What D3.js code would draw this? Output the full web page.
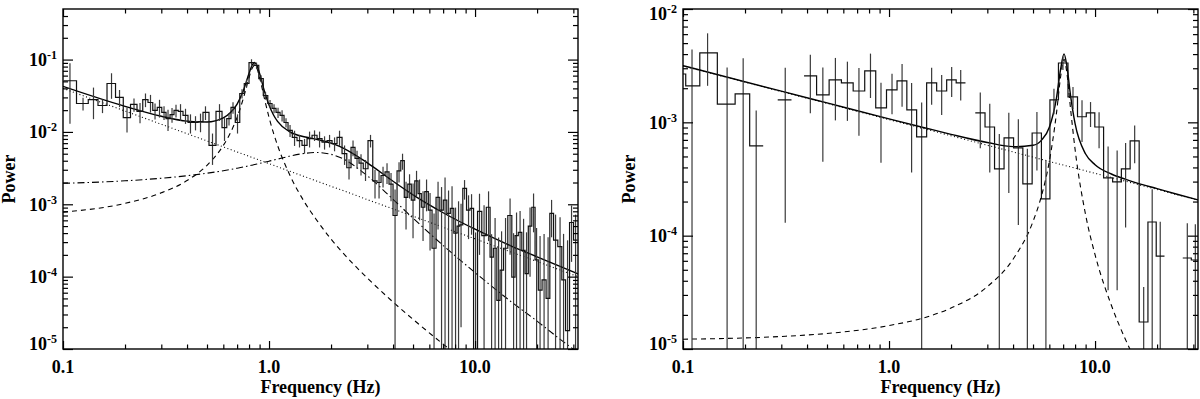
<!DOCTYPE html>
<html>
<head>
<meta charset="utf-8">
<script src="https://cdn.jsdelivr.net/npm/d3@7"></script>
<style>
body { margin: 0; background: #fff; }
text { font-family: "Liberation Serif", "Times New Roman", serif; font-weight: bold; fill: #000; }
</style>
</head>
<body>
<svg width="1200" height="399"></svg>
<script>
// ---------- left panel: binned power spectrum (bin centre freq, power, 1-sigma error) ----------
var leftFreq = [0.1081, 0.1251, 0.1406, 0.1555, 0.1720, 0.1881, 0.2045, 0.2211, 0.2365, 0.2514,
  0.2659, 0.2797, 0.2941, 0.3093, 0.3234, 0.3382, 0.3536, 0.3719, 0.3932, 0.4157,
  0.4397, 0.4650, 0.4916, 0.5317, 0.5750, 0.6081, 0.6394, 0.6686, 0.7032, 0.7394,
  0.7776, 0.8222, 0.8695, 0.9146, 0.9616, 1.0113, 1.0576, 1.106, 1.157, 1.209,
  1.265, 1.330, 1.406, 1.487, 1.573, 1.663, 1.759, 1.860, 1.967, 2.080,
  2.199, 2.326, 2.445, 2.557, 2.674, 2.796, 2.940, 3.109, 3.269, 3.420,
  3.576, 3.739, 3.910, 4.090, 4.276, 4.447, 4.624, 4.809, 5.000, 5.200,
  5.378, 5.592, 5.816, 6.048, 6.324, 6.613, 6.877, 7.151, 7.437, 7.733,
  8.042, 8.316, 8.551, 8.892, 9.299, 9.616, 10.06, 10.51, 11.06, 11.63,
  12.03, 12.51, 13.01, 13.45, 14.06, 14.79, 15.38, 15.90, 16.54, 17.20,
  17.78, 18.49, 19.23, 19.89, 20.68, 21.63, 22.62, 23.52, 24.59, 25.86,
  26.89, 28.12, 29.40, 30.75];
var leftPower = [0.051, 0.0247, 0.028, 0.0232, 0.0467, 0.030, 0.0158, 0.024, 0.0192, 0.028,
  0.0255, 0.0198, 0.0218, 0.0186, 0.0153, 0.0174, 0.0198, 0.0192, 0.0169, 0.0135,
  0.0135, 0.0139, 0.0186, 0.0065, 0.0192, 0.0115, 0.0153, 0.0218, 0.0135, 0.034,
  0.0467, 0.091, 0.083, 0.0547, 0.0319, 0.0247, 0.0211, 0.0186, 0.0169, 0.0135,
  0.0105, 0.0084, 0.0076, 0.0065, 0.0081, 0.009, 0.0081, 0.0072, 0.0076, 0.0069,
  0.0084, 0.0050, 0.0032, 0.0061, 0.0043, 0.0037, 0.0031, 0.0076, 0.0021, 0.0020,
  0.0025, 0.0028, 0.0019, 0.0007, 0.0029, 0.004, 0.00125, 0.0019, 0.00114, 0.0021,
  0.0014, 0.00091, 0.0015, 0.00083, 0.000247, 0.00125, 0.00083, 0.00114, 0.00075, 0.00088,
  0.0004, 0.0005, 0.00052, 0.00166, 0.00083, 0.00088, 0.000008, 0.0008, 0.00037, 0.00091,
  0.000186, 0.000247, 0.000047, 0.000123, 0.000247, 0.0007, 0.0000985, 0.00037, 0.00041, 0.00023,
  0.00011, 0.0005, 0.00091, 0.00017, 0.000065, 0.00009, 0.00005, 0.00075, 0.00032, 0.00026,
  0.00009, 0.000018, 0.00056, 0.00032];
var leftErr = [0.038, 0.005, 0.013, 0.005, 0.018, 0.008, 0.006, 0.005, 0.006, 0.006,
  0.007, 0.005, 0.006, 0.004, 0.005, 0.004, 0.004, 0.005, 0.004, 0.004,
  0.003, 0.004, 0.004, 0.003, 0.005, 0.004, 0.003, 0.004, 0.004, 0.005,
  0.006, 0.010, 0.008, 0.006, 0.004, 0.003, 0.003, 0.003, 0.003, 0.002,
  0.002, 0.002, 0.0015, 0.0015, 0.002, 0.0015, 0.002, 0.0015, 0.0015, 0.0015,
  0.002, 0.0015, 0.001, 0.0015, 0.0012, 0.0012, 0.001, 0.0015, 0.0009, 0.0008,
  0.0008, 0.0009, 0.0008, 0.0009, 0.0009, 0.001, 0.0008, 0.0007, 0.0008, 0.0008,
  0.0008, 0.0006, 0.0007, 0.0006, 0.0005, 0.0008, 0.0009, 0.0012, 0.0008, 0.0009,
  0.0005, 0.0006, 0.0005, 0.0005, 0.0005, 0.0005, 0.0004, 0.0006, 0.0006, 0.0006,
  0.0002, 0.0004, 0.0003, 0.0003, 0.0004, 0.0005, 0.0003, 0.0004, 0.0004, 0.0004,
  0.0003, 0.0004, 0.0005, 0.0003, 0.0003, 0.0003, 0.0003, 0.0004, 0.0004, 0.0004,
  0.0003, 0.0003, 0.0004, 0.0004];

// left panel model components
var leftModelFreq = [0.1, 0.2, 0.3, 0.4, 0.5, 0.6, 0.65, 0.7, 0.75, 0.8, 0.825, 0.85, 0.875, 0.9, 0.95,
  1.0, 1.05, 1.1, 1.25, 1.5, 1.7, 2.0, 2.2, 3, 4, 5, 7, 10, 15, 20, 25, 31.6];
var leftPowerLaw = [0.04, 0.01946, 0.01276, 0.00946, 0.0075, 0.00621, 0.00571, 0.00528, 0.00492, 0.0046,
  0.00445, 0.00432, 0.00419, 0.00407, 0.00385, 0.00365, 0.00347, 0.0033, 0.00289, 0.00239,
  0.0021, 0.00177, 0.00161, 0.00116, 0.000863, 0.000684, 0.000482, 0.000333, 0.000218, 0.000162,
  0.000128, 0.0001];
var leftQpo = [0.00078, 0.00103, 0.00144, 0.00213, 0.00346, 0.00652, 0.00976, 0.0159, 0.0289, 0.0565,
  0.0743, 0.083, 0.0743, 0.0565, 0.0289, 0.0159, 0.00976, 0.00652, 0.00268, 0.00103,
  0.00061, 0.00033, 0.00024, 0.0000956, 0.0000446, 0.0000257, 0.0000117, 0.0000053, 0.0000022, 0.0000012,
  0.0000008, 0.0000005];
var leftBroad = [0.00195, 0.00211, 0.00229, 0.00248, 0.00269, 0.00291, 0.00303, 0.00315, 0.00328, 0.0034,
  0.00347, 0.00354, 0.0036, 0.00367, 0.00381, 0.00394, 0.00408, 0.00421, 0.0046, 0.00507,
  0.0052, 0.00491, 0.00447, 0.00248, 0.00117, 0.000643, 0.00027, 0.000114, 0.0000448, 0.0000243,
  0.0000147, 0.0000089];
var leftTotal = [0.0427, 0.0226, 0.0165, 0.0141, 0.0137, 0.0156, 0.0185, 0.0243, 0.0371, 0.0645,
  0.0822, 0.0909, 0.0821, 0.0642, 0.0366, 0.0235, 0.0173, 0.0140, 0.0102, 0.0085,
  0.0079, 0.0070, 0.0063, 0.00374, 0.00208, 0.00135, 0.000764, 0.000452, 0.000265, 0.000188,
  0.000144, 0.000109];

// ---------- right panel ----------
// null = empty bin (not drawn)
var rightFreq = [0.0961, 0.1106, 0.1316, 0.1637, 0.1959, 0.2266, 0.265, 0.3135, 0.3606, 0.415,
  0.4773, 0.5492, 0.628, 0.7145, 0.8128, 0.9141, 1.034, 1.157, 1.287, 1.44,
  1.61, 1.801, 2.014, 2.228, 2.479, 2.773, 3.083, 3.430, 3.814, 4.243,
  4.693, 5.222, 5.774, 6.317, 6.986, 7.815, 8.644, 9.508, 10.46, 11.57,
  12.80, 14.07, 15.57, 17.22, 18.94, 20.72, 22.79, 25.34, 28.04, 30.67];
var rightPower = [0.00267, 0.0021, 0.0041, 0.00145, 0.00178, 0.00062, null, 0.00158, null, 0.00257,
  0.00175, 0.00237, 0.00223, 0.00189, 0.00284, 0.00134, 0.00193, 0.00232, 0.00129, 0.000743,
  0.00223, 0.00189, 0.00237, 0.00223, null, 0.00121, 0.00091, 0.000388, 0.000728, 0.000594,
  0.000286, 0.000805, 0.000211, 0.00158, 0.00334, 0.00168, 0.00112, 0.00121, 0.00091, 0.000323,
  0.000298, 0.000388, 0.000686, 0.0000173, 0.000132, 0.000066, null, null, 0.0000635, 0.000061];
var rightErr = [0.0015, 0.0023, 0.0020, 0.0016, 0.0019, 0.00065, null, 0.00145, null, 0.00137,
  0.0013, 0.00133, 0.0012, 0.00113, 0.0012, 0.0009, 0.00075, 0.00095, 0.00093, 0.00075,
  0.0008, 0.00073, 0.0007, 0.00067, null, 0.00062, 0.00055, 0.0004, 0.00049, 0.00047,
  0.0003, 0.00043, 0.00025, 0.0004, 0.00045, 0.00037, 0.00045, 0.0003, 0.00032, 0.00029,
  0.000265, 0.00027, 0.00025, 0.000018, 0.000125, 0.000067, null, null, 0.000065, 0.000065];

var rightModelFreq = [0.1, 0.3, 0.5, 1, 1.5, 2, 3, 4, 5, 5.5, 6, 6.5, 6.8, 7.07, 7.3, 7.6, 8, 9,
  10, 12, 14, 16, 20, 25, 31.6];
var rightPowerLaw = [0.00315, 0.00187, 0.001469, 0.001057, 0.000873, 0.000761, 0.000628, 0.000548, 0.000493,
  0.000471, 0.000452, 0.000435, 0.000426, 0.000418, 0.000412, 0.000404, 0.000395, 0.000373,
  0.000355, 0.000326, 0.000303, 0.000284, 0.000256, 0.00023, 0.000206];
var rightQpo = [0.0000122, 0.0000129, 0.0000137, 0.0000161, 0.000019, 0.000023, 0.0000355, 0.000062, 0.0001335,
  0.000226, 0.000453, 0.001212, 0.002497, 0.0036, 0.002726, 0.001332, 0.000577, 0.0001527,
  0.0000679, 0.0000243, 0.0000123, 0.0000074, 0.0000036, 0.0000019, 0.000001];
var rightTotal = [0.003162, 0.001883, 0.001483, 0.001073, 0.000892, 0.000784, 0.000664, 0.00061, 0.000627,
  0.000697, 0.000905, 0.001647, 0.002923, 0.004018, 0.003138, 0.001736, 0.000972, 0.000526,
  0.000423, 0.00035, 0.000315, 0.000291, 0.00026, 0.000232, 0.000207];

var xTicks = [0.1, 1, 10];
var xTickLabels = ["0.1", "1.0", "10.0"];
var xMinor = [0.2, 0.3, 0.4, 0.5, 0.6, 0.7, 0.8, 0.9, 2, 3, 4, 5, 6, 7, 8, 9, 20, 30];

var svg = d3.select("svg");

function minorLog(lo, hi) {
  var out = [];
  for (var e = -6; e <= 0; e++) {
    for (var m = 2; m <= 9; m++) {
      var v = m * Math.pow(10, e);
      if (v > lo * 1.0001 && v < hi * 0.9999) out.push(v);
    }
  }
  return out;
}

function drawPanel(opt) {
  var width = opt.width, height = opt.height;
  var g = svg.append("g").attr("transform", "translate(" + opt.left + "," + opt.top + ")");

  var x = d3.scaleLog().domain([0.1, 31.6]).range([0, width]);
  var y = d3.scaleLog().domain(opt.yDomain).range([height, 0]);
  var yMin = opt.yDomain[0];

  g.append("defs").append("clipPath").attr("id", opt.id)
    .append("rect").attr("width", width).attr("height", height);
  var plot = g.append("g").attr("clip-path", "url(#" + opt.id + ")");

  // model curves
  var line = function(vals) {
    return d3.line()
      .curve(d3.curveMonotoneX)
      .x(function(d, i) { return x(opt.modelFreq[i]); })
      .y(function(d) { return y(d); })(vals);
  };
  opt.models.forEach(function(m) {
    plot.append("path")
      .attr("d", line(m.values))
      .attr("fill", "none")
      .attr("stroke", "#000")
      .attr("stroke-width", m.width || 1.1)
      .attr("stroke-dasharray", m.dash || null);
  });

  // error bars
  var py = function(v) { return v <= yMin ? height + 3 : y(v); };
  opt.freq.forEach(function(f, i) {
    var p = opt.power[i];
    if (p == null) return;
    var e = opt.err[i];
    plot.append("line")
      .attr("x1", x(f)).attr("x2", x(f))
      .attr("y1", y(p + e))
      .attr("y2", py(p - e))
      .attr("stroke", "#3a3a3a")
      .attr("stroke-width", 1.2);
  });

  // histogram steps
  var n = opt.freq.length, edges = [];
  for (var i = 0; i < n - 1; i++) edges[i + 1] = Math.sqrt(opt.freq[i] * opt.freq[i + 1]);
  edges[0] = opt.freq[0] * opt.freq[0] / edges[1];
  edges[n] = opt.freq[n - 1] * opt.freq[n - 1] / edges[n - 1];
  var d = "";
  for (var j = 0; j < n; j++) {
    var v = opt.power[j];
    if (v == null) continue;
    if (j === 0 || opt.power[j - 1] == null) d += "M" + x(edges[j]) + "," + py(v);
    else d += "V" + py(v);
    d += "H" + x(edges[j + 1]);
  }
  plot.append("path").attr("d", d)
    .attr("fill", "none").attr("stroke", "#111").attr("stroke-width", 1.2);

  // axes: ticks point inward on all four sides
  var yMinor = minorLog(opt.yDomain[0], opt.yDomain[1]);
  var strip = function(sel) {
    sel.select(".domain").remove();
    sel.selectAll(".tick line").attr("stroke-width", 1.2);
  };
  g.append("g").attr("transform", "translate(0," + height + ")")
    .call(d3.axisBottom(x).tickValues(xTicks).tickSize(-8).tickFormat("")).call(strip);
  g.append("g").attr("transform", "translate(0," + height + ")")
    .call(d3.axisBottom(x).tickValues(xMinor).tickSize(-4.5).tickFormat("")).call(strip);
  g.append("g")
    .call(d3.axisTop(x).tickValues(xTicks).tickSize(-8).tickFormat("")).call(strip);
  g.append("g")
    .call(d3.axisTop(x).tickValues(xMinor).tickSize(-4.5).tickFormat("")).call(strip);
  g.append("g")
    .call(d3.axisLeft(y).tickValues(opt.yTicks).tickSize(-10).tickFormat("")).call(strip);
  g.append("g")
    .call(d3.axisLeft(y).tickValues(yMinor).tickSize(-5).tickFormat("")).call(strip);
  g.append("g").attr("transform", "translate(" + width + ",0)")
    .call(d3.axisRight(y).tickValues(opt.yTicks).tickSize(-10).tickFormat("")).call(strip);
  g.append("g").attr("transform", "translate(" + width + ",0)")
    .call(d3.axisRight(y).tickValues(yMinor).tickSize(-5).tickFormat("")).call(strip);

  g.append("rect").attr("width", width).attr("height", height)
    .attr("fill", "none").attr("stroke", "#000").attr("stroke-width", 1.4);

  // tick labels
  xTicks.forEach(function(t, i) {
    g.append("text").attr("x", x(t)).attr("y", height + 24)
      .attr("text-anchor", "middle").attr("font-size", 18).text(xTickLabels[i]);
  });
  opt.yTicks.forEach(function(t) {
    var base = Math.min(Math.max(y(t) + 6.5, 11), height + 1);
    var txt = g.append("text").attr("x", -6).attr("y", base)
      .attr("text-anchor", "end").attr("font-size", 18);
    txt.append("tspan").text("10");
    txt.append("tspan").attr("font-size", 12).attr("dy", -7)
      .text(String(Math.round(Math.log10(t))).replace("-", "-"));
  });

  g.append("text")
    .attr("transform", "translate(-48," + (height / 2) + ") rotate(-90)")
    .attr("text-anchor", "middle").attr("font-size", 18).text("Power");
  g.append("text").attr("x", width / 2).attr("y", height + 44)
    .attr("text-anchor", "middle").attr("font-size", 18).text("Frequency (Hz)");
}

drawPanel({
  id: "clipLeft", left: 63, top: 9, width: 515, height: 340,
  yDomain: [1e-5, 0.5], yTicks: [1e-5, 1e-4, 1e-3, 1e-2, 1e-1],
  freq: leftFreq, power: leftPower, err: leftErr,
  modelFreq: leftModelFreq,
  models: [
    { values: leftPowerLaw, dash: "1,2.5" },
    { values: leftQpo, dash: "5,4" },
    { values: leftBroad, dash: "7,3,1.5,3" },
    { values: leftTotal, width: 1.4 }
  ]
});

drawPanel({
  id: "clipRight", left: 683, top: 9, width: 515, height: 340,
  yDomain: [1e-5, 1e-2], yTicks: [1e-5, 1e-4, 1e-3, 1e-2],
  freq: rightFreq, power: rightPower, err: rightErr,
  modelFreq: rightModelFreq,
  models: [
    { values: rightPowerLaw, dash: "1,2.5" },
    { values: rightQpo, dash: "5,4" },
    { values: rightTotal, width: 1.4 }
  ]
});
</script>
</body>
</html>
